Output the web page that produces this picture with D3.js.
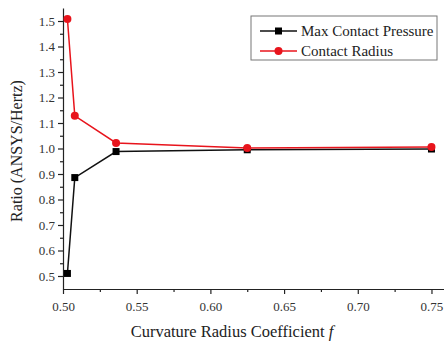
<!DOCTYPE html>
<html>
<head>
<meta charset="utf-8">
<script src="https://cdn.jsdelivr.net/npm/d3@7"></script>
<style>
  body { margin: 0; background: #fff; }
  svg { display: block; }
  svg text { font-family: "Liberation Serif", "Times New Roman", serif !important; }
</style>
</head>
<body>
<svg width="444" height="344"></svg>
<script>
const coef = [0.503, 0.508, 0.536, 0.625, 0.75];
const maxPressure = [0.51, 0.886, 0.988, 0.995, 0.998];
const contactRadius = [1.508, 1.128, 1.022, 1.002, 1.006];
const xTicks = [0.50, 0.55, 0.60, 0.65, 0.70, 0.75];
const yTicks = [0.5, 0.6, 0.7, 0.8, 0.9, 1.0, 1.1, 1.2, 1.3, 1.4, 1.5];
const seriesNames = ["Max Contact Pressure", "Contact Radius"];

const svg = d3.select("svg");

const x = d3.scaleLinear().domain([0.5, 0.7585]).range([63, 444]);
const y = d3.scaleLinear().domain([0.449, 1.551]).range([289, 8]);

// minor ticks
const xMinor = d3.range(0.525, 0.76, 0.05);
const yMinor = d3.range(0.55, 1.55, 0.1);

const xAxis = svg.append("g")
    .attr("transform", "translate(0,289)")
    .call(d3.axisBottom(x).tickValues(xTicks).tickFormat(d3.format(".2f")).tickSize(5).tickSizeOuter(0));
xAxis.selectAll("text").attr("font-size", 13).attr("fill", "#333").attr("dy", "1.05em");

svg.append("g")
    .attr("transform", "translate(0,289)")
    .call(d3.axisBottom(x).tickValues(xMinor).tickFormat("").tickSize(3).tickSizeOuter(0))
    .select(".domain").remove();

const yAxis = svg.append("g")
    .attr("transform", "translate(63,0)")
    .call(d3.axisLeft(y).tickValues(yTicks).tickFormat(d3.format(".1f")).tickSize(5).tickSizeOuter(0));
yAxis.selectAll("text").attr("font-size", 13).attr("fill", "#333");

svg.append("g")
    .attr("transform", "translate(63,0)")
    .call(d3.axisLeft(y).tickValues(yMinor).tickFormat("").tickSize(3).tickSizeOuter(0))
    .select(".domain").remove();

svg.selectAll(".domain, .tick line").attr("stroke", "#222").attr("stroke-width", 1.2);

const line = d3.line().x(d => x(d[0])).y(d => y(d[1]));

const black = coef.map((c, i) => [c, maxPressure[i]]);
const red = coef.map((c, i) => [c, contactRadius[i]]);

svg.append("path").datum(black).attr("d", line)
    .attr("fill", "none").attr("stroke", "#111").attr("stroke-width", 1.5);
svg.append("path").datum(red).attr("d", line)
    .attr("fill", "none").attr("stroke", "#e8141c").attr("stroke-width", 1.5);

svg.append("g").selectAll("rect").data(black).join("rect")
    .attr("x", d => x(d[0]) - 3.5).attr("y", d => y(d[1]) - 3.5)
    .attr("width", 7).attr("height", 7).attr("fill", "#000");

svg.append("g").selectAll("circle").data(red).join("circle")
    .attr("cx", d => x(d[0])).attr("cy", d => y(d[1]))
    .attr("r", 4).attr("fill", "#e8141c");

// legend
const legend = svg.append("g");
legend.append("rect")
    .attr("x", 251).attr("y", 16).attr("width", 186).attr("height", 44)
    .attr("fill", "#fff").attr("stroke", "#777").attr("stroke-width", 1);

const legendColors = ["#111", "#e8141c"];
seriesNames.forEach((name, i) => {
    const ly = 31 + i * 20;
    legend.append("line").attr("x1", 260).attr("x2", 297).attr("y1", ly).attr("y2", ly)
        .attr("stroke", legendColors[i]).attr("stroke-width", 1.5);
    if (i === 0) {
        legend.append("rect").attr("x", 275).attr("y", ly - 3.5).attr("width", 7).attr("height", 7)
            .attr("fill", "#000");
    } else {
        legend.append("circle").attr("cx", 278.5).attr("cy", ly).attr("r", 4).attr("fill", "#e8141c");
    }
    legend.append("text").attr("x", 301).attr("y", ly).attr("dy", "0.35em")
        .attr("font-size", 15).attr("fill", "#222").text(name);
});

// axis titles
const xt = svg.append("text")
    .attr("x", 232).attr("y", 337).attr("text-anchor", "middle")
    .attr("font-size", 16.5).attr("fill", "#222");
xt.append("tspan").text("Curvature Radius Coefficient ");
xt.append("tspan").attr("font-style", "italic").text("f");

svg.append("text")
    .attr("transform", "translate(22,151) rotate(-90)")
    .attr("text-anchor", "middle")
    .attr("font-size", 16).attr("fill", "#222")
    .text("Ratio (ANSYS/Hertz)");
</script>
</body>
</html>
